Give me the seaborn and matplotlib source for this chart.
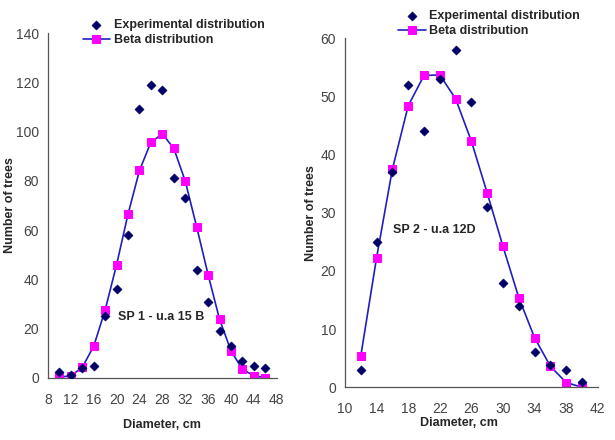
import numpy as np
import pandas as pd
import matplotlib
matplotlib.use("Agg")
import matplotlib.pyplot as plt
import seaborn as sns

# SP 1 - u.a 15 B
sp1_diam = [10, 12, 14, 16, 18, 20, 22, 24, 26, 28, 30, 32, 34, 36, 38, 40, 42, 44, 46]
sp1_exp = [2.4, 1, 4, 5, 25, 36, 58, 109, 119, 117, 81, 73, 44, 31, 19, 13, 7, 5, 4]
sp1_beta = [0.3, 0.9, 4.3, 12.9, 27.6, 46, 66.5, 84.2, 95.7, 99, 93.2, 79.9, 61.3, 41.9, 23.8, 11, 3.5, 0.9, 0.1]

# SP 2 - u.a 12D
sp2_diam = [12, 14, 16, 18, 20, 22, 24, 26, 28, 30, 32, 34, 36, 38, 40]
sp2_exp = [3, 25, 37, 52, 44, 53, 58, 49, 31, 18, 14, 6, 3.9, 3, 0.9]
sp2_beta = [5.4, 22.3, 37.5, 48.4, 53.6, 53.7, 49.6, 42.3, 33.4, 24.2, 15.4, 8.5, 3.6, 0.8, 0]

sns.set_style("white")
plt.rcParams['font.family'] = ['Liberation Sans', 'DejaVu Sans']

fig = plt.figure(figsize=(6.15, 4.4), dpi=100)
ax1 = fig.add_axes([0.078, 0.141, 0.372, 0.784])
ax2 = fig.add_axes([0.561, 0.120, 0.411, 0.793])

panels = [
    (ax1, sp1_diam, sp1_exp, sp1_beta, (8, 48), (0, 140), 20, "SP 1 - u.a 15 B", (20.2, 23.5)),
    (ax2, sp2_diam, sp2_exp, sp2_beta, (10, 42), (0, 60), 10, "SP 2 - u.a 12D", (16.1, 26.5)),
]

for ax, diam, exp_vals, beta_vals, xlim, ylim, ystep, label, pos in panels:
    df = pd.DataFrame({'diam': diam, 'exp': exp_vals, 'beta': beta_vals})
    sns.scatterplot(data=df, x='diam', y='exp', ax=ax, marker='D', s=22,
                    color='#000066', edgecolor='#000066', zorder=3,
                    label='Experimental distribution')
    sns.lineplot(data=df, x='diam', y='beta', ax=ax, color='#1f1fbf', lw=1.2,
                 marker='s', markersize=6, markerfacecolor='#ff00ff',
                 markeredgecolor='#ff00ff', zorder=2, label='Beta distribution')
    ax.set_xlim(*xlim)
    ax.set_ylim(*ylim)
    ax.set_xticks(np.arange(xlim[0], xlim[1] + 1, 4))
    ax.set_yticks(np.arange(ylim[0], ylim[1] + 1, ystep))
    for s in ['top', 'right']:
        ax.spines[s].set_visible(False)
    for s in ['left', 'bottom']:
        ax.spines[s].set_color('#555555')
        ax.spines[s].set_linewidth(0.9)
    ax.tick_params(axis='x', direction='inout', length=6, width=0.8, color='#555555',
                   labelsize=10, labelcolor='#444444', pad=8)
    ax.tick_params(axis='y', direction='out', length=3, width=0.8, color='#555555',
                   labelsize=10, labelcolor='#444444')
    ax.set_xlabel('Diameter, cm', fontsize=9, fontweight='bold')
    ax.set_ylabel('Number of trees', fontsize=9, fontweight='bold')
    ax.text(pos[0], pos[1], label, fontsize=9, fontweight='bold')

ax1.legend(loc='upper left', bbox_to_anchor=(0.13, 1.055), frameon=False,
           prop={'size': 9, 'weight': 'bold'}, handlelength=2.2,
           handletextpad=0.3, borderaxespad=0, labelspacing=0.25)
ax2.legend(loc='upper left', bbox_to_anchor=(0.19, 1.095), frameon=False,
           prop={'size': 9, 'weight': 'bold'}, handlelength=2.2,
           handletextpad=0.3, borderaxespad=0, labelspacing=0.25)

ax1.yaxis.set_label_coords(-0.14, 0.5)
ax2.yaxis.set_label_coords(-0.11, 0.5)
ax1.xaxis.set_label_coords(0.5, -0.12)
ax2.xaxis.set_label_coords(0.45, -0.085)

fig.savefig('out.png', dpi=100)
